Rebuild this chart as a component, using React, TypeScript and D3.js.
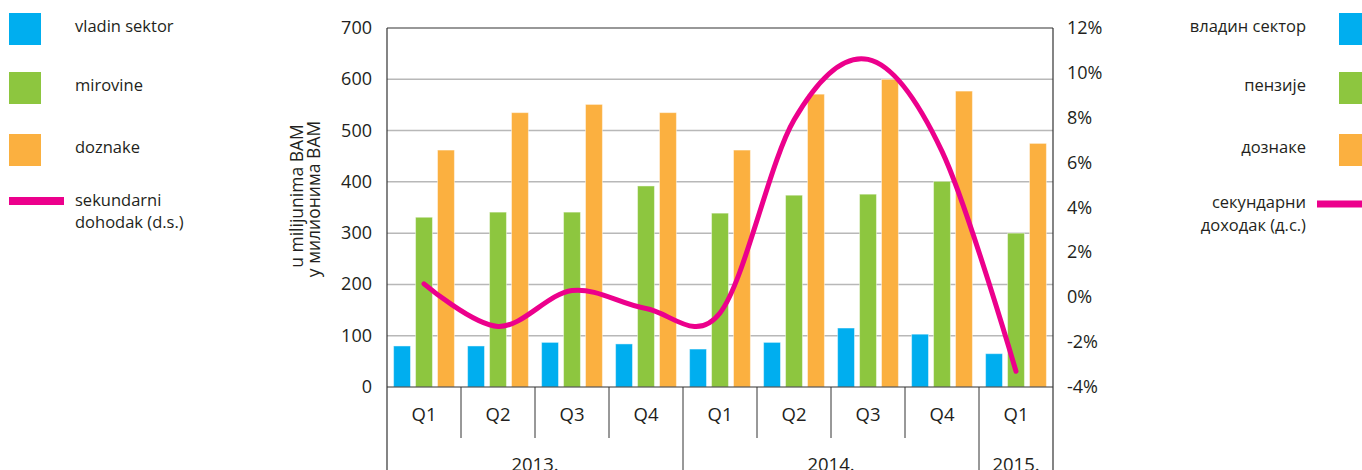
import React from "react";
import * as d3 from "d3";

const quarters = ["Q1", "Q2", "Q3", "Q4", "Q1", "Q2", "Q3", "Q4", "Q1"];
const years = [
  { label: "2013.", start: 0, end: 4 },
  { label: "2014.", start: 4, end: 8 },
  { label: "2015.", start: 8, end: 9 },
];
const vladinSektor = [80, 80, 87, 84, 74, 87, 115, 103, 65];
const mirovine = [331, 341, 341, 392, 339, 374, 376, 401, 300];
const doznake = [462, 535, 551, 535, 462, 571, 600, 577, 475];
const sekundarniDohodak = [0.6, -1.3, 0.3, -0.5, -0.7, 7.9, 10.6, 6.5, -3.3];
const leftTicks = [0, 100, 200, 300, 400, 500, 600, 700];
const rightTicks = [-4, -2, 0, 2, 4, 6, 8, 10, 12];
const seriesKeys = ["vladin", "mirovine", "doznake"];
const seriesColors = ["#00AEEF", "#8DC63F", "#FBB040"];
const legendLeft = ["vladin sektor", "mirovine", "doznake"];
const legendRight = ["владин сектор", "пензије", "дознаке"];
const lineColor = "#EC008C";

const W = 1362;
const H = 470;
const L = 387;
const R = 1053;
const T = 28;
const B = 387;
const FONT = "'Open Sans', sans-serif";
const TXT = "#231f20";

export default function App() {
  const x0 = d3.scaleBand<number>().domain(d3.range(quarters.length)).range([L, R]).padding(0);
  const x1 = d3
    .scaleBand<string>()
    .domain(seriesKeys)
    .range([0, x0.bandwidth()])
    .paddingInner(0.23)
    .paddingOuter(0.3);
  const y = d3.scaleLinear().domain([0, 700]).range([B, T]);
  const y2 = d3.scaleLinear().domain([-4, 12]).range([B, T]);
  const series = [vladinSektor, mirovine, doznake];
  const line = d3
    .line<number>()
    .x((_, i) => (x0(i) as number) + x0.bandwidth() / 2)
    .y((d) => y2(d))
    .curve(d3.curveCardinal.tension(0));

  const bw = x0.bandwidth();
  const legendY = [29, 88, 150];

  return (
    <div style={{ position: "fixed", left: 0, top: 0 }}>
      <svg width={W} height={H} style={{ display: "block" }} fontFamily={FONT}>
        <rect width={W} height={H} fill="#fff" />
        {/* gridlines */}
        {leftTicks
          .filter((t) => t !== 0 && t !== 700)
          .map((t) => (
            <line key={t} x1={L} x2={R} y1={y(t)} y2={y(t)} stroke="#b8b8b8" strokeWidth={1.5} />
          ))}
        {/* bars */}
        {series.map((vals, si) =>
          vals.map((v, i) => (
            <rect
              key={si + "-" + i}
              x={(x0(i) as number) + (x1(seriesKeys[si]) as number)}
              y={y(v)}
              width={x1.bandwidth()}
              height={y(0) - y(v)}
              fill={seriesColors[si]}
              stroke="#ffffff"
              strokeOpacity={0.45}
              strokeWidth={1}
            />
          ))
        )}
        {/* frame */}
        <line x1={L} x2={R} y1={T} y2={T} stroke="#333" strokeWidth={1.2} />
        <line x1={L} x2={R} y1={B} y2={B} stroke="#333" strokeWidth={1.2} />
        <line x1={L} x2={L} y1={T} y2={H} stroke="#333" strokeWidth={1.2} />
        <line x1={R} x2={R} y1={T} y2={H} stroke="#333" strokeWidth={1.2} />
        {/* category separators */}
        {d3.range(1, quarters.length).map((i) => {
          const isYear = years.some((yr) => yr.start === i);
          return (
            <line
              key={"sep" + i}
              x1={x0(i) as number}
              x2={x0(i) as number}
              y1={B}
              y2={isYear ? H : 438}
              stroke="#333"
              strokeWidth={1}
            />
          );
        })}
        {/* quarter labels */}
        {quarters.map((q, i) => (
          <text
            key={"q" + i}
            x={(x0(i) as number) + bw / 2}
            y={421}
            textAnchor="middle"
            fontSize={18.5}
            fill={TXT}
          >
            {q}
          </text>
        ))}
        {years.map((yr) => (
          <text
            key={yr.label}
            x={((x0(yr.start) as number) + (yr.end < quarters.length ? (x0(yr.end) as number) : R)) / 2}
            y={471}
            textAnchor="middle"
            fontSize={18.5}
            fill={TXT}
          >
            {yr.label}
          </text>
        ))}
        {/* left ticks */}
        {leftTicks.map((t) => (
          <text key={"l" + t} x={372} y={y(t) + 6} textAnchor="end" fontSize={18} fill={TXT}>
            {t}
          </text>
        ))}
        {/* right ticks */}
        {rightTicks.map((t) => (
          <text key={"r" + t} x={1067} y={y2(t) + 6} textAnchor="start" fontSize={18} fill={TXT}>
            {t + "%"}
          </text>
        ))}
        {/* y axis title */}
        <text transform="translate(303,196) rotate(-90)" textAnchor="middle" fontSize={17.5} fill={TXT}>
          u milijunima BAM
        </text>
        <text transform="translate(320,199) rotate(-90)" textAnchor="middle" fontSize={17.5} fill={TXT}>
          у милионима BAM
        </text>
        {/* line */}
        <path
          d={line(sekundarniDohodak) || ""}
          fill="none"
          stroke={lineColor}
          strokeWidth={5}
          strokeLinecap="round"
          strokeLinejoin="round"
        />
        {/* left legend */}
        {legendLeft.map((lbl, i) => (
          <g key={"ll" + i}>
            <rect x={9} y={legendY[i] - 16} width={32} height={32} fill={seriesColors[i]} />
            <text x={75} y={legendY[i] + 3} fontSize={16.5} fill={TXT}>
              {lbl}
            </text>
          </g>
        ))}
        <line x1={9} x2={64} y1={201} y2={201} stroke={lineColor} strokeWidth={8} />
        <text x={75} y={205.5} fontSize={16.5} fill={TXT}>
          sekundarni
        </text>
        <text x={75} y={228} fontSize={16.5} fill={TXT}>
          dohodak (d.s.)
        </text>
        {/* right legend */}
        {legendRight.map((lbl, i) => (
          <g key={"rl" + i}>
            <rect x={1339} y={legendY[i] - 16} width={32} height={32} fill={seriesColors[i]} />
            <text x={1306} y={legendY[i] + 3} fontSize={16.5} textAnchor="end" fill={TXT}>
              {lbl}
            </text>
          </g>
        ))}
        <line x1={1317} x2={1362} y1={204} y2={204} stroke={lineColor} strokeWidth={7} />
        <text x={1306} y={207.5} fontSize={16.5} textAnchor="end" fill={TXT}>
          секундарни
        </text>
        <text x={1306} y={230.5} fontSize={16.5} textAnchor="end" fill={TXT}>
          доходак (д.с.)
        </text>
      </svg>
    </div>
  );
}
